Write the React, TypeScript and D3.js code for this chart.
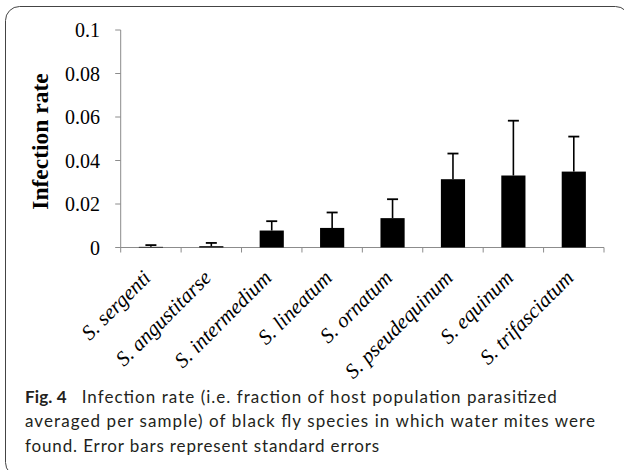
import React from 'react';
import {scaleBand, scaleLinear} from "d3";

const width = 624;
const height = 470;

const species = ["S. sergenti", "S. angustitarse", "S. intermedium", "S. lineatum", "S. ornatum", "S. pseudequinum", "S. equinum", "S. trifasciatum"];
const rates = [0.0003, 0.0006, 0.0078, 0.009, 0.0135, 0.0314, 0.0331, 0.0349];
const stdErrors = [0.0008, 0.0015, 0.0043, 0.0071, 0.0087, 0.0118, 0.0252, 0.0161];
const yTicks = [0, 0.02, 0.04, 0.06, 0.08, 0.1];
const yTickLabels = ["0", "0.02", "0.04", "0.06", "0.08", "0.1"];

const captionLines = [
  "Infection rate (i.e. fraction of host population parasitized",
  "averaged per sample) of black fly species in which water mites were",
  "found. Error bars represent standard errors",
];

const axisColor = "#8c8c8c";
const serif = "'Liberation Serif', 'Times New Roman', serif";
const sans = "Lato, 'Open Sans', sans-serif";
const captionColor = "#231f20";

export default function App() {
  const x = scaleBand<string>()
    .domain(species)
    .range([120.7, 604])
    .paddingInner(0.6)
    .paddingOuter(0.3);

  const y = scaleLinear().domain([0, 0.1]).range([247.5, 30]);

  const step = x.step();
  const x0 = x.range()[0];
  const x1 = x.range()[1];
  const capW = 11;

  return (
    <svg width={width} height={height}
         style={{position: "absolute", left: 0, top: 0, background: "#fff"}}>
      {/* frame */}
      <rect x={5.5} y={6.5} width={624} height={470} rx={14} fill="none" stroke="#444" strokeWidth={1}/>

      {/* y title */}
      <text transform={`translate(48,141.5) rotate(-90)`} textAnchor="middle"
            fontFamily={serif} fontWeight="bold" fontSize={23.5}>Infection rate</text>

      {/* y axis */}
      <line x1={x0} x2={x0} y1={y(0.1)} y2={y(0) + 5} stroke={axisColor}/>
      {yTicks.map((t, i) => (
        <g key={i}>
          <line x1={x0 - 5.5} x2={x0} y1={y(t)} y2={y(t)} stroke={axisColor}/>
          <text x={100} y={y(t)} dy="0.35em" textAnchor="end" fontFamily={serif} fontSize={20}>
            {yTickLabels[i]}
          </text>
        </g>
      ))}

      {/* x axis */}
      <line x1={x0} x2={x1} y1={y(0)} y2={y(0)} stroke={axisColor}/>
      {species.map((s, i) => (
        <line key={s} x1={x0 + step * (i + 1)} x2={x0 + step * (i + 1)} y1={y(0)} y2={y(0) + 5}
              stroke={axisColor}/>
      ))}

      {/* bars + error bars */}
      {species.map((s, i) => {
        const bx = x(s)!;
        const cx = bx + x.bandwidth() / 2;
        const top = y(rates[i] + stdErrors[i]);
        return (
          <g key={s}>
            <rect x={bx} y={y(rates[i])} width={x.bandwidth()} height={y(0) - y(rates[i])} fill="#000"/>
            <line x1={cx} x2={cx} y1={y(rates[i])} y2={top} stroke="#000" strokeWidth={1.6}/>
            <line x1={cx - capW / 2} x2={cx + capW / 2} y1={top} y2={top} stroke="#000" strokeWidth={1.8}/>
          </g>
        );
      })}

      {/* category labels */}
      {species.map((s) => {
        const cx = x(s)! + x.bandwidth() / 2;
        return (
          <text key={s} transform={`translate(${cx + 1},279) rotate(-45)`} textAnchor="end"
                fontFamily={serif} fontStyle="italic" fontSize={21}>{s}</text>
        );
      })}

      {/* caption */}
      <text x={25} y={402.7} fontFamily={sans} fontWeight="bold" fontSize={17} fill={captionColor}
            textLength={41.7} lengthAdjust="spacing">Fig. 4</text>
      <text x={81.7} y={402.7} fontFamily={sans} fontSize={17} fill={captionColor}
            textLength={475} lengthAdjust="spacing">{captionLines[0]}</text>
      <text x={25} y={427.3} fontFamily={sans} fontSize={17} fill={captionColor}
            textLength={570} lengthAdjust="spacing">{captionLines[1]}</text>
      <text x={25} y={451.7} fontFamily={sans} fontSize={17} fill={captionColor}
            textLength={354} lengthAdjust="spacing">{captionLines[2]}</text>
    </svg>
  );
}
